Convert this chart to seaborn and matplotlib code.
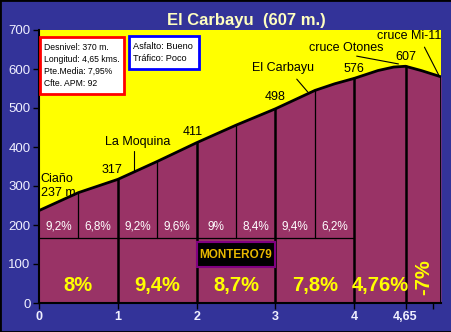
import matplotlib
matplotlib.use("Agg")
import matplotlib.pyplot as plt
from matplotlib.patches import Rectangle
import seaborn as sns
import pandas as pd
import numpy as np

# ---- data ----
dist_km = [0, 0.5, 1, 1.5, 2, 2.5, 3, 3.5, 3.75, 4, 4.3, 4.5, 4.65, 4.85, 5.1]
elev_m = [237, 283, 317, 363, 411, 456, 498, 545, 562, 576, 596, 605, 607, 596, 580]

half_km_marks = [0.5, 1.5, 2.5, 3.5]
km_marks = [1, 2, 3, 4, 4.65]
half_km_grades = ["9,2%", "6,8%", "9,2%", "9,6%", "9%", "8,4%", "9,4%", "6,2%"]
half_km_centers = [0.25, 0.75, 1.25, 1.75, 2.25, 2.75, 3.25, 3.75]
km_grades = ["8%", "9,4%", "8,7%", "7,8%", "4,76%"]
km_centers = [0.5, 1.5, 2.5, 3.5, 4.325]
last_grade = "-7%"
last_center = 4.875

xtick_pos = [0, 1, 2, 3, 4, 4.65, 5]
xtick_lab = ["0", "1", "2", "3", "4", "4,65", ""]
ytick_pos = [0, 100, 200, 300, 400, 500, 600, 700]

places = [("Ciaño\n237 m", 0.02, 300, "left"),
          ("317", 0.93, 340, "center"),
          ("La Moquina", 1.25, 413, "center"),
          ("411", 1.95, 438, "center"),
          ("El Carbayu", 3.1, 602, "center"),
          ("498", 3.0, 528, "center"),
          ("cruce Otones", 3.9, 654, "center"),
          ("576", 3.99, 600, "center"),
          ("cruce Mi-11", 4.7, 685, "center"),
          ("607", 4.66, 631, "center")]
leaders = [((1.21, 390), (1.21, 336)),
           ((3.27, 574), (3.41, 541)),
           ((4.03, 633), (4.56, 613)),
           ((4.89, 656), (5.07, 585))]

info_lines = ["Desnivel: 370 m.", "Longitud: 4,65 kms.", "Pte.Media: 7,95%", "Cfte. APM: 92"]
road_lines = ["Asfalto: Bueno", "Tráfico: Poco"]

# ---- style ----
sns.set_theme(style="white")
plt.rcParams["font.family"] = ["Liberation Sans", "DejaVu Sans"]

BG = "#333399"
YEL = "#ffff00"
MAR = "#993366"

fig = plt.figure(figsize=(4.52, 3.32), dpi=100, facecolor=BG)
ax = fig.add_axes([39/452, 1-303/332, (441-39)/452, (303-30)/332])
ax.set_facecolor(YEL)

df = pd.DataFrame({"km": dist_km, "m": elev_m})
ax.fill_between(df["km"], df["m"], 0, color=MAR, lw=0, zorder=1)
sns.lineplot(data=df, x="km", y="m", ax=ax, color="black", lw=2, zorder=3)
ax.plot([dist_km[-1], dist_km[-1]], [0, elev_m[-1]], color="black", lw=2, zorder=3)

def elev_at(x):
    return np.interp(x, dist_km, elev_m)

for x in km_marks:
    ax.plot([x, x], [0, elev_at(x)], color="black", lw=1.8, zorder=2)
for x in half_km_marks:
    ax.plot([x, x], [167, elev_at(x)], color="black", lw=0.9, zorder=2)
ax.plot([0, 4], [167, 167], color="black", lw=0.9, zorder=2)

for lab, xc in zip(half_km_grades, half_km_centers):
    ax.text(xc, 195, lab, color="white", fontsize=8.5, ha="center", va="center", zorder=4)
for lab, xc in zip(km_grades, km_centers):
    ax.text(xc, 46, lab, color=YEL, fontsize=14.5, fontweight="bold", ha="center", va="center", zorder=4)
ax.text(last_center, 67, last_grade, color=YEL, fontsize=14.5, fontweight="bold",
        ha="center", va="center", rotation=90, zorder=4)

for lab, x, y, ha in places:
    ax.text(x, y, lab, color="black", fontsize=9, ha=ha, va="center", zorder=4, linespacing=1.25)
for (p0, p1) in leaders:
    ax.plot([p0[0], p1[0]], [p0[1], p1[1]], color="black", lw=0.8, zorder=4)

# MONTERO79 box
ax.add_patch(Rectangle((2.01, 92), 0.98, 64, facecolor="black", edgecolor="#800080", lw=1.5, zorder=5))
ax.text(2.5, 124, "MONTERO79", color="#e8b800", fontsize=8.5, fontweight="bold",
        ha="center", va="center", zorder=6)

# info boxes (figure pixel coords)
def fig_box(x0, y0, x1, y1, ec, lines, fs):
    fig.patches.append(Rectangle((x0/452, 1-y1/332), (x1-x0)/452, (y1-y0)/332,
                                 transform=fig.transFigure, facecolor="white",
                                 edgecolor=ec, lw=2, zorder=10))
    n = len(lines)
    step = (y1 - y0 - 8) / n
    for i, t in enumerate(lines):
        yy = y0 + 4 + step * (i + 0.5)
        fig.text((x0 + 4)/452, 1 - yy/332, t, fontsize=fs, color="black",
                 ha="left", va="center", zorder=11)

fig_box(40, 37, 124, 94, "#ff0000", info_lines, 6.2)
fig_box(129, 36, 199, 69, "#0000ff", road_lines, 6.6)

# axes
ax.set_xlim(0, 5.1)
ax.set_ylim(0, 700)
ax.set_xticks(xtick_pos)
ax.set_xticklabels(xtick_lab, color="#f0f0ff", fontweight="bold", fontsize=9)
ax.set_yticks(ytick_pos)
ax.set_yticklabels([str(v) for v in ytick_pos], color="#f0f0ff", fontsize=9.5)
ax.tick_params(axis="both", direction="out", length=4, width=1, color="black", pad=2,
               bottom=True, left=True)
ax.set_xlabel("")
ax.set_ylabel("")
for s in ["top", "right"]:
    ax.spines[s].set_visible(False)
for s in ["left", "bottom"]:
    ax.spines[s].set_color("black")
    ax.spines[s].set_linewidth(1.5)
    ax.spines[s].set_zorder(6)

fig.text(246/452, 1-20/332, "El Carbayu  (607 m.)", color="#ffffc0", fontsize=12,
         fontweight="bold", ha="center", va="center")

fig.patches.append(Rectangle((0, 0), 1, 1, transform=fig.transFigure, fill=False,
                             edgecolor="black", lw=2, zorder=20))

fig.savefig("out.png", dpi=100, facecolor=BG)
